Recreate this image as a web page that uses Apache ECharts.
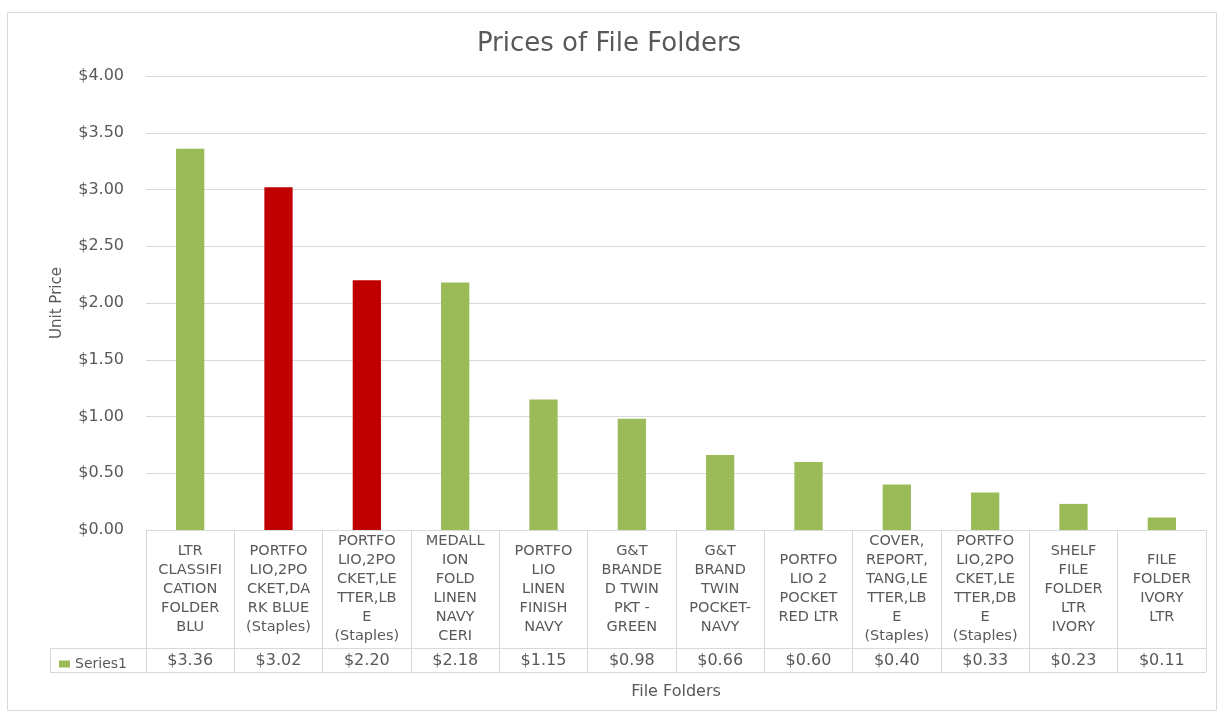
<!DOCTYPE html>
<html><head><meta charset="utf-8">
<script src="https://cdn.jsdelivr.net/npm/echarts@6/dist/echarts.min.js"></script>
<style>html,body{margin:0;padding:0;background:#fff}#c{width:1218px;height:715px}</style>
</head><body><div id="c"></div>
<script>
const categories = [
  "LTR\nCLASSIFI\nCATION\nFOLDER\nBLU",
  "PORTFO\nLIO,2PO\nCKET,DA\nRK BLUE\n(Staples)",
  "PORTFO\nLIO,2PO\nCKET,LE\nTTER,LB\nE\n(Staples)",
  "MEDALL\nION\nFOLD\nLINEN\nNAVY\nCERI",
  "PORTFO\nLIO\nLINEN\nFINISH\nNAVY",
  "G&T\nBRANDE\nD TWIN\nPKT -\nGREEN",
  "G&T\nBRAND\nTWIN\nPOCKET-\nNAVY",
  "PORTFO\nLIO 2\nPOCKET\nRED LTR",
  "COVER,\nREPORT,\nTANG,LE\nTTER,LB\nE\n(Staples)",
  "PORTFO\nLIO,2PO\nCKET,LE\nTTER,DB\nE\n(Staples)",
  "SHELF\nFILE\nFOLDER\nLTR\nIVORY",
  "FILE\nFOLDER\nIVORY\nLTR"
];
const unitPrices = [3.36, 3.02, 2.20, 2.18, 1.15, 0.98, 0.66, 0.60, 0.40, 0.33, 0.23, 0.11];
const highlighted = [false, true, true, false, false, false, false, false, false, false, false, false];
const seriesName = "Series1";

const GREEN = "#9BBB59", RED = "#C00000", TXT = "#595959", LINE = "#D9D9D9";
const FONT = "DejaVu Sans";
const money = v => "$" + v.toFixed(2);

const chart = echarts.init(document.getElementById('c'), null, {renderer: 'canvas'});
const G = {left: 146, right: 12, top: 76, bottom: 185};
const W = 1218, H = 715;
const plotRight = W - G.right;

chart.setOption({
  animation: false,
  textStyle: {fontFamily: FONT},
  title: {
    text: "Prices of File Folders", left: 'center', top: 26,
    textStyle: {fontFamily: FONT, fontSize: 26, fontWeight: 'normal', color: TXT}
  },
  legend: {
    data: [seriesName], left: 54, top: 652, itemWidth: 11, itemHeight: 7, itemGap: 5, icon: 'rect',
    textStyle: {fontFamily: FONT, fontSize: 14, color: TXT}
  },
  grid: G,
  xAxis: [{
    type: 'category', data: categories, position: 'bottom',
    axisLine: {show: true, lineStyle: {color: LINE}},
    axisTick: {show: true, length: 142, interval: 0, lineStyle: {color: LINE}},
    axisLabel: {interval: 0, margin: 59, verticalAlign: 'middle', align: 'center',
      fontFamily: FONT, fontSize: 14.5, lineHeight: 19, color: TXT}
  }, {
    type: 'category', data: unitPrices.map(money), position: 'bottom',
    axisLine: {show: false}, axisTick: {show: false},
    axisLabel: {interval: 0, margin: 131, verticalAlign: 'middle', align: 'center',
      fontFamily: FONT, fontSize: 16, color: TXT},
    name: "File Folders", nameLocation: 'middle', nameGap: 154,
    nameTextStyle: {fontFamily: FONT, fontSize: 16, color: TXT}
  }],
  yAxis: {
    type: 'value', min: 0, max: 4, interval: 0.5,
    axisLine: {show: false}, axisTick: {show: false},
    splitLine: {lineStyle: {color: LINE}},
    axisLabel: {formatter: v => money(v), margin: 22, fontFamily: FONT, fontSize: 16, color: TXT},
    name: "Unit Price", nameLocation: 'middle', nameGap: 81, nameRotate: 90,
    nameTextStyle: {fontFamily: FONT, fontSize: 15, color: TXT}
  },
  series: [{
    name: seriesName, type: 'bar', xAxisIndex: 0, barWidth: '32%',
    itemStyle: {color: GREEN},
    data: unitPrices.map((v, i) => ({value: v, itemStyle: {color: highlighted[i] ? RED : GREEN}}))
  }],
  graphic: [
    {type: 'rect', shape: {x: 7.5, y: 12.5, width: 1209, height: 698}, style: {fill: 'none', stroke: LINE, lineWidth: 1}, silent: true},
    {type: 'line', shape: {x1: 50, y1: 648.5, x2: plotRight, y2: 648.5}, style: {stroke: LINE, lineWidth: 1}},
    {type: 'line', shape: {x1: 50, y1: 672.5, x2: plotRight, y2: 672.5}, style: {stroke: LINE, lineWidth: 1}},
    {type: 'line', shape: {x1: 50.5, y1: 648, x2: 50.5, y2: 673}, style: {stroke: LINE, lineWidth: 1}}
  ]
});
</script></body></html>
